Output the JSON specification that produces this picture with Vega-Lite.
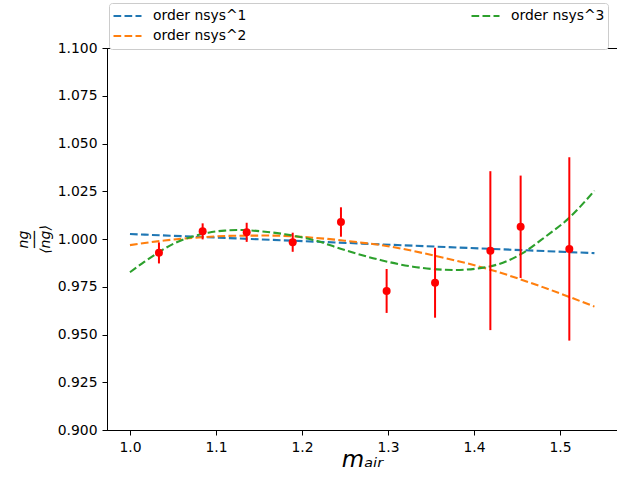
{
  "$schema": "https://vega.github.io/schema/vega-lite/v6.json",
  "autosize": {"type": "none"},
  "padding": {"left": 107, "top": 48, "right": 0, "bottom": 57},
  "width": 511,
  "height": 382,
  "background": "white",
  "config": {
    "view": {"stroke": "black", "strokeWidth": 1},
    "font": "DejaVu Sans",
    "axis": {
      "grid": false,
      "domainColor": "black",
      "tickColor": "black",
      "labelColor": "black",
      "titleColor": "black",
      "labelFont": "DejaVu Sans",
      "labelFontSize": 13.9,
      "tickSize": 5,
      "labelPadding": 5,
      "titleFont": "DejaVu Sans",
      "titleFontWeight": "normal"
    }
  },
  "datasets": {
    "curves": [
      {"model": "order nsys^1", "x": 1.0, "y": 1.0026},
      {"model": "order nsys^1", "x": 1.27, "y": 0.9976},
      {"model": "order nsys^1", "x": 1.54, "y": 0.9926},
      {"model": "order nsys^2", "x": 1.0, "y": 0.9968},
      {"model": "order nsys^2", "x": 1.04, "y": 0.9992},
      {"model": "order nsys^2", "x": 1.08, "y": 1.0008},
      {"model": "order nsys^2", "x": 1.12, "y": 1.0017},
      {"model": "order nsys^2", "x": 1.16, "y": 1.0018},
      {"model": "order nsys^2", "x": 1.2, "y": 1.0011},
      {"model": "order nsys^2", "x": 1.25, "y": 0.9991},
      {"model": "order nsys^2", "x": 1.3, "y": 0.9962},
      {"model": "order nsys^2", "x": 1.355, "y": 0.9912},
      {"model": "order nsys^2", "x": 1.42, "y": 0.9838},
      {"model": "order nsys^2", "x": 1.48, "y": 0.9748},
      {"model": "order nsys^2", "x": 1.54, "y": 0.9646},
      {"model": "order nsys^3", "x": 1.0, "y": 0.9826},
      {"model": "order nsys^3", "x": 1.017, "y": 0.9881},
      {"model": "order nsys^3", "x": 1.052, "y": 0.9978},
      {"model": "order nsys^3", "x": 1.072, "y": 1.0012},
      {"model": "order nsys^3", "x": 1.091, "y": 1.0033},
      {"model": "order nsys^3", "x": 1.11, "y": 1.0044},
      {"model": "order nsys^3", "x": 1.13, "y": 1.0047},
      {"model": "order nsys^3", "x": 1.157, "y": 1.0038},
      {"model": "order nsys^3", "x": 1.18, "y": 1.0025},
      {"model": "order nsys^3", "x": 1.213, "y": 0.9995},
      {"model": "order nsys^3", "x": 1.252, "y": 0.9939},
      {"model": "order nsys^3", "x": 1.291, "y": 0.989},
      {"model": "order nsys^3", "x": 1.329, "y": 0.9855},
      {"model": "order nsys^3", "x": 1.357, "y": 0.9841},
      {"model": "order nsys^3", "x": 1.378, "y": 0.9838},
      {"model": "order nsys^3", "x": 1.417, "y": 0.9855},
      {"model": "order nsys^3", "x": 1.455, "y": 0.9922},
      {"model": "order nsys^3", "x": 1.483, "y": 1.0012},
      {"model": "order nsys^3", "x": 1.51, "y": 1.0108},
      {"model": "order nsys^3", "x": 1.54, "y": 1.0253}
    ],
    "points": [
      {"x": 1.0337, "y": 0.9928, "lo": 0.9872, "hi": 0.9982},
      {"x": 1.0845, "y": 1.004, "lo": 0.9998, "hi": 1.0082},
      {"x": 1.1357, "y": 1.0035, "lo": 0.9985, "hi": 1.0085},
      {"x": 1.1892, "y": 0.9983, "lo": 0.9933, "hi": 1.0033},
      {"x": 1.2453, "y": 1.0089, "lo": 1.0012, "hi": 1.0166},
      {"x": 1.2984, "y": 0.9728, "lo": 0.9613, "hi": 0.9843},
      {"x": 1.3547, "y": 0.9771, "lo": 0.9588, "hi": 0.9954},
      {"x": 1.419, "y": 0.9939, "lo": 0.9523, "hi": 1.0355},
      {"x": 1.4542, "y": 1.0064, "lo": 0.9796, "hi": 1.0332},
      {"x": 1.5108, "y": 0.9948, "lo": 0.9468, "hi": 1.0428}
    ]
  },
  "layer": [
    {
      "data": {"name": "curves"},
      "mark": {"type": "line", "strokeDash": [7.7, 3.3], "strokeWidth": 2.1, "interpolate": "monotone"},
      "encoding": {
        "x": {
          "field": "x", "type": "quantitative",
          "scale": {"domain": [0.9733, 1.5674], "nice": false, "zero": false},
          "axis": {
            "values": [1.0, 1.1, 1.2, 1.3, 1.4, 1.5],
            "format": ".1f",
            "title": "mₐᵢᵣ",
            "titleFontSize": 23,
            "titleFontStyle": "italic",
            "titleX": 255,
            "titleY": 36,
            "titleBaseline": "alphabetic",
            "titleAlign": "center"
          }
        },
        "y": {
          "field": "y", "type": "quantitative",
          "scale": {"domain": [0.9, 1.1], "nice": false, "zero": false},
          "axis": {
            "values": [0.9, 0.925, 0.95, 0.975, 1.0, 1.025, 1.05, 1.075, 1.1],
            "format": ".3f",
            "title": ["ng", "──", "⟨ng⟩"],
            "titleFontSize": 14,
            "titleFontStyle": "italic",
            "titleLineHeight": 11,
            "titleAngle": -90,
            "titleX": -84,
            "titleY": 191,
            "titleAlign": "center",
            "titleBaseline": "middle"
          }
        },
        "color": {
          "field": "model", "type": "nominal",
          "scale": {
            "domain": ["order nsys^1", "order nsys^2", "order nsys^3"],
            "range": ["#1f77b4", "#ff7f0e", "#2ca02c"]
          },
          "legend": {
            "title": null,
            "orient": "none",
            "legendX": 2,
            "legendY": -45,
            "columns": 2,
            "columnPadding": 223,
            "rowPadding": 0,
            "clipHeight": 20,
            "padding": 3,
            "symbolType": "stroke",
            "symbolSize": 784,
            "symbolStrokeWidth": 2.1,
            "symbolDash": [7.7, 3.3],
            "labelOffset": 10,
            "labelFontSize": 13.9,
            "labelFont": "DejaVu Sans",
            "labelColor": "black",
            "fillColor": "white",
            "strokeColor": "#cccccc",
            "cornerRadius": 3
          }
        }
      }
    },
    {
      "data": {"name": "points"},
      "mark": {"type": "rule", "color": "red", "strokeWidth": 2},
      "encoding": {
        "x": {"field": "x", "type": "quantitative"},
        "y": {"field": "lo", "type": "quantitative"},
        "y2": {"field": "hi"}
      }
    },
    {
      "data": {"name": "points"},
      "mark": {"type": "point", "filled": true, "color": "red", "opacity": 1, "size": 64},
      "encoding": {
        "x": {"field": "x", "type": "quantitative"},
        "y": {"field": "y", "type": "quantitative"}
      }
    }
  ]
}
